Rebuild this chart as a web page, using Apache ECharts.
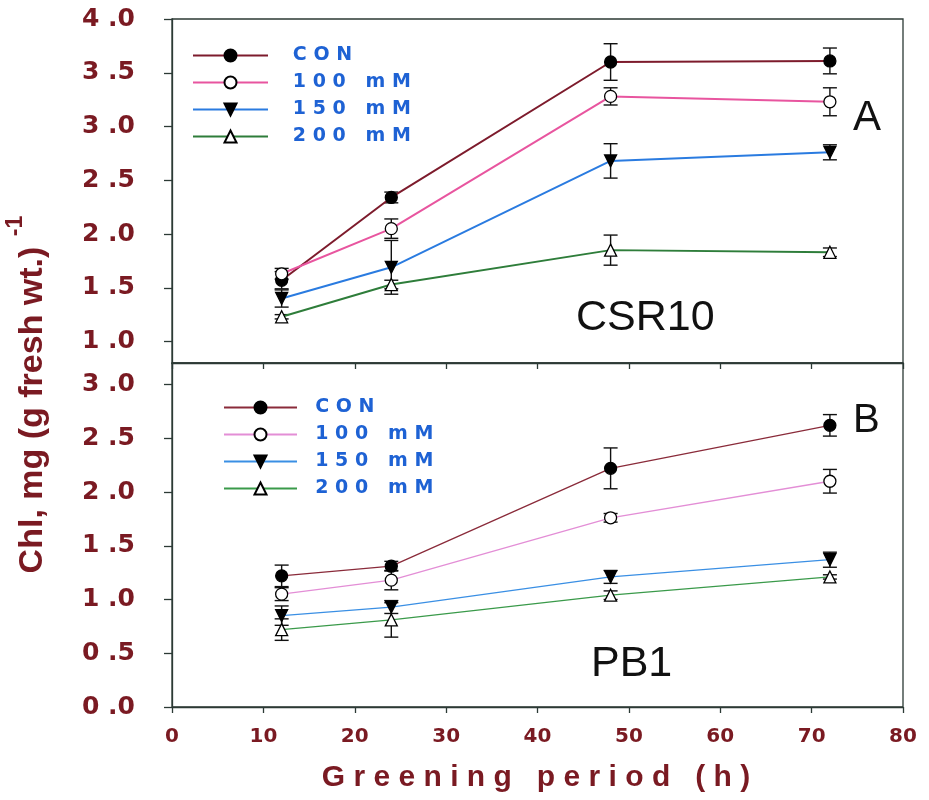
<!DOCTYPE html>
<html>
<head>
<meta charset="utf-8">
<script src="https://cdn.jsdelivr.net/npm/echarts@6/dist/echarts.min.js"></script>
<style>
  html, body { margin: 0; padding: 0; background: #fff; }
  #chart { width: 929px; height: 800px; }
</style>
</head>
<body>
<div id="chart"></div>
<script>
// Greening time points (h)
const hours = [12, 24, 48, 72];
const treatments = ['CON', '100 mM', '150 mM', '200 mM'];

// Panel A – CSR10: chlorophyll means and error bar half-widths
const csr10Con = [1.57, 2.34, 3.60, 3.61];
const csr10Con_err = [0.08, 0.05, 0.17, 0.12];
const csr10M100 = [1.63, 2.05, 3.28, 3.23];
const csr10M100_err = [0.05, 0.09, 0.08, 0.13];
const csr10M150 = [1.40, 1.69, 2.68, 2.76];
const csr10M150_err = [0.08, 0.25, 0.16, 0.07];
const csr10M200 = [1.23, 1.53, 1.85, 1.83];
const csr10M200_err = [0.02, 0.04, 0.14, 0.04];

// Panel B – PB1
const pb1Con = [1.22, 1.31, 2.22, 2.62];
const pb1Con_err = [0.10, 0.045, 0.19, 0.10];
const pb1M100 = [1.05, 1.18, 1.76, 2.10];
const pb1M100_err = [0.06, 0.09, 0.04, 0.11];
const pb1M150 = [0.85, 0.93, 1.21, 1.37];
const pb1M150_err = [0.09, 0.06, 0.06, 0.07];
const pb1M200 = [0.72, 0.81, 1.04, 1.21];
const pb1M200_err = [0.10, 0.16, 0.04, 0.02];

// Tick values
const xTicks = [0, 10, 20, 30, 40, 50, 60, 70, 80];
const yTicksA = [1.0, 1.5, 2.0, 2.5, 3.0, 3.5, 4.0];
const yTicksB = [0.0, 0.5, 1.0, 1.5, 2.0, 2.5, 3.0];

const maroon = '#7a1a22';
const axisColor = '#2c3a35';
const legendBlue = '#1e62d4';

const styleA = [
  { line: '#7d1b2c', symbol: 'circle', rotate: 0, fill: '#000' },
  { line: '#e8559f', symbol: 'circle', rotate: 0, fill: '#fff' },
  { line: '#2a7be0', symbol: 'triangle', rotate: 180, fill: '#000' },
  { line: '#2e7d3a', symbol: 'triangle', rotate: 0, fill: '#fff' }
];
const styleB = [
  { line: '#8a2b3a', symbol: 'circle', rotate: 0, fill: '#000' },
  { line: '#e38ed6', symbol: 'circle', rotate: 0, fill: '#fff' },
  { line: '#3a8fe4', symbol: 'triangle', rotate: 180, fill: '#000' },
  { line: '#3a9a4a', symbol: 'triangle', rotate: 0, fill: '#fff' }
];

const meansA = [csr10Con, csr10M100, csr10M150, csr10M200];
const errsA = [csr10Con_err, csr10M100_err, csr10M150_err, csr10M200_err];
const meansB = [pb1Con, pb1M100, pb1M150, pb1M200];
const errsB = [pb1Con_err, pb1M100_err, pb1M150_err, pb1M200_err];

// Spaced-out legend labels
const spaced = {
  'CON': 'C O N',
  '100 mM': '1 0 0   m M',
  '150 mM': '1 5 0   m M',
  '200 mM': '2 0 0   m M'
};

function lineSeries(panel, idx, means, st, width) {
  return {
    name: treatments[idx] + ' ' + panel,
    type: 'line',
    xAxisIndex: panel === 'A' ? 0 : 1,
    yAxisIndex: panel === 'A' ? 0 : 1,
    data: hours.map((h, i) => [h, means[i]]),
    symbol: st.symbol,
    symbolRotate: st.rotate,
    symbolSize: 12,
    showAllSymbol: true,
    lineStyle: { color: st.line, width: width },
    itemStyle: { color: st.fill, borderColor: '#000', borderWidth: 1.3 },
    z: 3
  };
}

function errorSeries(panel, means, errs) {
  const data = [];
  means.forEach((m, s) => {
    hours.forEach((h, i) => data.push([h, m[i], errs[s][i]]));
  });
  return {
    type: 'custom',
    xAxisIndex: panel === 'A' ? 0 : 1,
    yAxisIndex: panel === 'A' ? 0 : 1,
    data: data,
    z: 2,
    silent: true,
    renderItem: function (params, api) {
      const x = api.value(0), y = api.value(1), e = api.value(2);
      const hi = api.coord([x, y + e]);
      const lo = api.coord([x, y - e]);
      const hw = 7;
      const st = { stroke: '#111', lineWidth: 1.4, fill: null };
      return {
        type: 'group',
        children: [
          { type: 'line', shape: { x1: hi[0], y1: hi[1], x2: lo[0], y2: lo[1] }, style: st },
          { type: 'line', shape: { x1: hi[0] - hw, y1: hi[1], x2: hi[0] + hw, y2: hi[1] }, style: st },
          { type: 'line', shape: { x1: lo[0] - hw, y1: lo[1], x2: lo[0] + hw, y2: lo[1] }, style: st }
        ]
      };
    }
  };
}

const series = [];
series.push(errorSeries('A', meansA, errsA));
series.push(errorSeries('B', meansB, errsB));
meansA.forEach((m, i) => series.push(lineSeries('A', i, m, styleA[i], 2)));
meansB.forEach((m, i) => series.push(lineSeries('B', i, m, styleB[i], 1.3)));

function xAxis(gridIndex, showLabels) {
  return {
    type: 'value',
    gridIndex: gridIndex,
    min: xTicks[0],
    max: xTicks[xTicks.length - 1],
    interval: 10,
    axisLine: { show: true, lineStyle: { color: axisColor, width: 1.3 } },
    axisTick: { show: true, inside: false, length: 6, lineStyle: { color: axisColor, width: 1.3 } },
    axisLabel: {
      show: showLabels,
      margin: 20,
      color: maroon,
      fontFamily: 'DejaVu Sans',
      fontWeight: 'bold',
      fontSize: 20
    },
    splitLine: { show: false }
  };
}

function yAxis(gridIndex, min, max, ticks) {
  return {
    type: 'value',
    gridIndex: gridIndex,
    min: min,
    max: max,
    axisLine: { show: true, lineStyle: { color: axisColor, width: 1.3 } },
    axisTick: { show: true, length: 8, customValues: ticks, lineStyle: { color: axisColor, width: 1.3 } },
    axisLabel: {
      customValues: ticks,
      margin: 37,
      color: maroon,
      fontFamily: 'DejaVu Sans',
      fontWeight: 'bold',
      fontSize: 25,
      formatter: v => v.toFixed(1).replace('.', ' .')
    },
    splitLine: { show: false }
  };
}

function legend(panel, left, top, width) {
  return {
    orient: 'vertical',
    left: left,
    top: top,
    itemWidth: width,
    itemHeight: 15,
    itemGap: 8,
    padding: 0,
    selectedMode: false,
    data: treatments.map(t => t + ' ' + panel),
    formatter: name => (panel === 'A' ? '   ' : '  ') + spaced[name.slice(0, -2)],
    textStyle: {
      color: legendBlue,
      fontFamily: 'DejaVu Sans',
      fontWeight: 'bold',
      fontSize: 19
    }
  };
}

const option = {
  animation: false,
  backgroundColor: '#fff',
  grid: [
    { left: 172, right: 26, top: 19, height: 344, show: true, borderColor: axisColor, borderWidth: 1.3, backgroundColor: 'transparent' },
    { left: 172, right: 26, top: 363, height: 344, show: true, borderColor: axisColor, borderWidth: 1.3, backgroundColor: 'transparent' }
  ],
  xAxis: [xAxis(0, false), xAxis(1, true)],
  yAxis: [yAxis(0, 0.8, 4.0, yTicksA), yAxis(1, 0.0, 3.2, yTicksB)],
  legend: [legend('A', 192, 46, 75), legend('B', 223, 398, 73)],
  series: series,
  graphic: [
    {
      type: 'text', x: 33, y: 410, rotation: Math.PI / 2,
      style: { text: 'Chl, mg (g fresh wt.)', fill: maroon, font: 'bold 34px "Liberation Sans", Arial, sans-serif', align: 'center', verticalAlign: 'middle' }
    },
    {
      type: 'text', x: 16, y: 226, rotation: Math.PI / 2,
      style: { text: '-1', fill: maroon, font: 'bold 23px "Liberation Sans", Arial, sans-serif', align: 'center', verticalAlign: 'middle' }
    },
    {
      type: 'text', x: 536, y: 778,
      style: { text: 'G r e e n i n g   p e r i o d   ( h )', fill: maroon, font: 'bold 30px "Liberation Sans", Arial, sans-serif', align: 'center', verticalAlign: 'middle' }
    },
    {
      type: 'text', x: 853, y: 118,
      style: { text: 'A', fill: '#111', font: '42px "Liberation Sans", Arial, sans-serif', align: 'left', verticalAlign: 'middle' }
    },
    {
      type: 'text', x: 853, y: 421,
      style: { text: 'B', fill: '#111', font: '40px "Liberation Sans", Arial, sans-serif', align: 'left', verticalAlign: 'middle' }
    },
    {
      type: 'text', x: 576, y: 318,
      style: { text: 'CSR10', fill: '#111', font: '43px "Liberation Sans", Arial, sans-serif', align: 'left', verticalAlign: 'middle' }
    },
    {
      type: 'text', x: 591, y: 664,
      style: { text: 'PB1', fill: '#111', font: '43px "Liberation Sans", Arial, sans-serif', align: 'left', verticalAlign: 'middle' }
    }
  ]
};

const chart = echarts.init(document.getElementById('chart'), null, { renderer: 'canvas' });
chart.setOption(option);
</script>
</body>
</html>
